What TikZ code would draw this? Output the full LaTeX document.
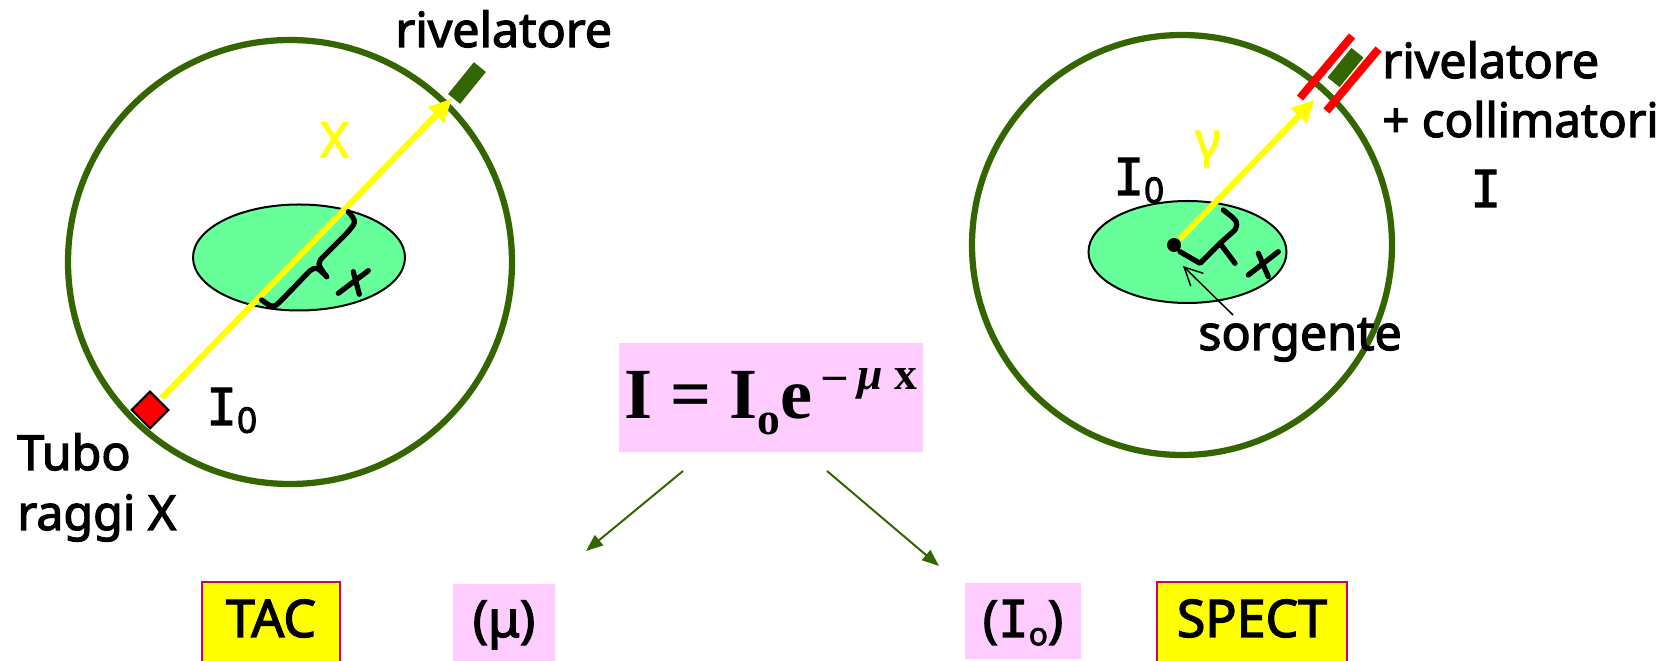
\documentclass[tikz,border=0pt]{standalone}
\usepackage{fontspec}
\setmainfont{Noto Sans}[FakeBold=2.5]
\newfontfamily\barre{DejaVu Sans Mono}[FakeBold=2]
\newfontfamily\tempi{Liberation Serif}
\usetikzlibrary{positioning,arrows.meta,shapes.geometric}
\definecolor{verdone}{HTML}{336600}
\definecolor{organo}{HTML}{66FF99}
\definecolor{rosa}{HTML}{FFCCFF}
\definecolor{giallo}{HTML}{FFFF00}
\definecolor{rosso}{HTML}{FF0000}
\definecolor{bordo}{HTML}{CC0066}
\newcommand{\Izero}{{\barre\fontsize{29}{29}\selectfont I}\raisebox{-0.3ex}{\fontsize{20}{20}\selectfont 0}}
\tikzset{
  anello/.style={draw=verdone,line width=0.125cm},
  sezione/.style={draw=black,line width=0.04cm,fill=organo},
  raggio/.style={draw=giallo,line width=0.12cm,-{Triangle[length=0.46cm,width=0.42cm]}},
  rivelat/.style={fill=verdone,inner sep=0pt,minimum height=0.31cm,rotate=51},
  collim/.style={fill=rosso,inner sep=0pt,minimum width=1.62cm,minimum height=0.16cm,rotate=50},
  graffa/.style={line width=0.105cm,line cap=round,line join=round},
  etichetta/.style={anchor=base west,inner sep=0pt,font=\fontsize{27.5}{27.5}\selectfont},
  freccia/.style={draw=verdone,line width=0.04cm,-{Triangle[length=0.34cm,width=0.26cm]}},
  scatola/.style={anchor=base,fill=giallo,draw=bordo,line width=0.04cm,inner sep=0pt,text height=1.1cm,text depth=0.7cm,font=\fontsize{29.5}{29.5}\selectfont},
  riquadro/.style={anchor=base,fill=rosa,inner sep=0pt,font=\fontsize{29}{29}\selectfont},
}
\begin{document}
\begin{tikzpicture}[x=0.02cm,y=-0.02cm]
  \clip (0,0) rectangle (1664,661);
  % TAC a sinistra
  \draw[anello] (290,262) circle[radius=222];
  \draw[sezione] (299,257.5) circle[x radius=106,y radius=53];
  \node[diamond,fill=rosso,draw=black,line width=0.04cm,inner sep=0pt,minimum width=0.8cm,minimum height=0.8cm,outer sep=0.08cm] (tubo) at (150,410) {};
  \node[rivelat,minimum width=0.82cm,outer sep=0.02cm] (rivtac) at (467,83) {};
  \draw[raggio] (tubo) -- (rivtac);
  \draw[graffa] (348.3,211.7) .. controls (356.7,221.7) .. (346.7,233.3) -- (325,255) .. controls (316.7,263.3) .. (326.7,276.7);
  \draw[graffa] (326.7,276.7) .. controls (316.7,266.7) .. (310,270.7) -- (281.7,300) .. controls (273.3,308.3) .. (261.7,300);
  \draw[graffa] (338.3,293.3) -- (368.3,270.7) (353.3,271.7) -- (359.3,294.3);
  \node[etichetta] (lrivtac) at (395,47) {rivelatore};
  \node[etichetta,text=giallo] (ltacx) at (320,157) {X};
  \node[etichetta] (itac) at (206,425) {\Izero};
  \node[etichetta] (ltubo) at (17,470) {Tubo};
  \node[etichetta] (lraggi) at (17,530) {raggi X};
  % SPECT a destra
  \draw[anello] (1182,245) circle[radius=210];
  \draw[sezione] (1187.5,252) circle[x radius=99,y radius=51];
  \node[collim] (coll1) at (1326,67) {};
  \node[collim] (coll2) at (1352.5,80) {};
  \node[rivelat,minimum width=0.76cm] (rivspect) at (1345.5,67.5) {};
  \node[circle,fill=black,inner sep=0pt,minimum size=0.28cm,outer sep=0.02cm] (fonte) at (1174,245) {};
  \draw[raggio,shorten >=0.5cm] (fonte) -- (rivspect);
  \draw[graffa] (1223.3,210) .. controls (1238.3,221.7) .. (1235,230) -- (1220,243.3) -- (1235,263.3);
  \draw[graffa] (1220,243.3) -- (1215,248.3) -- (1200,263.3) -- (1180,251.7);
  \draw[graffa] (1248.3,275) -- (1278.3,251.7) (1258.3,253.3) -- (1268.3,276.7);
  \node[etichetta] (lrivspect) at (1382,78) {rivelatore};
  \node[etichetta,font=\fontsize{27}{27}\selectfont] (lcoll) at (1382,137) {+ collimatori};
  \node[etichetta] (ispect) at (1470,207) {{\barre\fontsize{29}{29}\selectfont I}};
  \node[etichetta,text=giallo] (lgamma) at (1195,157) {γ};
  \node[etichetta] (izero) at (1113,195) {\Izero};
  \node[etichetta] (sorgente) at (1198,350) {sorgente};
  \coordinate (partenza) at (1233,315);
  \coordinate (arrivo) at (1183,266);
  \draw[line width=0.03cm,-{Straight Barb[length=0.36cm,width=0.36cm]}] (partenza) -- (arrivo);
  % formula e scatole in basso
  \node[anchor=base,fill=rosa,inner sep=0pt,minimum width=6.08cm,text height=1.52cm,text depth=0.66cm] (formula) at (771,419)
    {\tempi\fontsize{41}{41}\selectfont\bfseries I = I\raisebox{-9pt}{\fontsize{26}{26}\selectfont o}e\raisebox{17pt}{\fontsize{26}{26}\selectfont{} – \textit{μ} x}};
  \node[scatola,minimum width=2.78cm] (tac) at (271,637) {TAC};
  \node[scatola,minimum width=3.82cm] (spect) at (1252,637) {SPECT};
  \node[riquadro,minimum width=2.04cm,text height=1.06cm,text depth=0.6cm] (mu) at (504,637) {(μ)};
  \node[riquadro,minimum width=2.34cm,text height=1.08cm,text depth=0.44cm] (io) at (1023,637) {({\barre I}\raisebox{-0.3ex}{\fontsize{18}{18}\selectfont o})};
  \coordinate (fsx) at (683,471);
  \coordinate (fdx) at (827,471);
  \coordinate (dmu) at (586,551);
  \coordinate (dio) at (939,566);
  \draw[freccia] (fsx) -- (dmu);
  \draw[freccia] (fdx) -- (dio);
\end{tikzpicture}
\end{document}
